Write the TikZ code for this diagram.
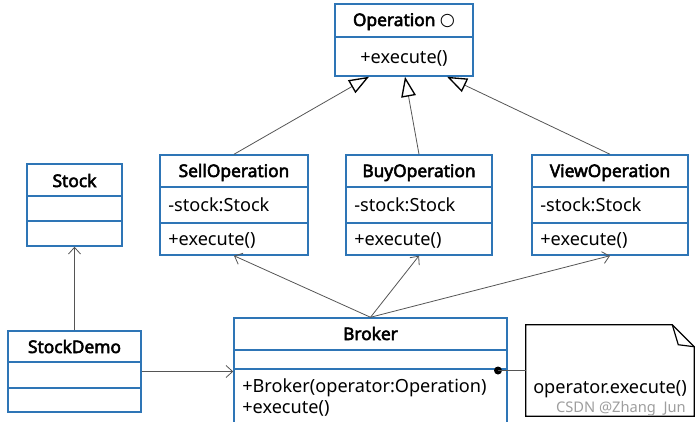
\documentclass[tikz,border=0pt]{standalone}
\usepackage{fontspec}
\setmainfont{Noto Sans}[BoldFont={Noto Sans},BoldFeatures={FakeBold=3}]
\newfontfamily\symfont{DejaVu Sans}
\usetikzlibrary{arrows.meta,fit,calc}
\definecolor{umlblue}{RGB}{46,117,182}
\definecolor{linkgray}{RGB}{85,85,85}

\begin{document}
\begin{tikzpicture}[x=0.75pt,y=-0.75pt,
    cls/.style={draw=umlblue,line width=1.1pt,inner sep=0pt},
    sep/.style={umlblue,line width=1.1pt},
    title/.style={font=\bfseries\fontsize{13}{15}\selectfont,inner sep=0pt,anchor=base},
    member/.style={font=\fontsize{13.6}{15}\selectfont,inner sep=0pt,anchor=base west},
    inherit/.style={draw=linkgray,line width=0.6pt,-{Triangle[open,length=15pt,width=11pt,line width=1pt,black]}},
    assoc/.style={draw=linkgray,line width=0.6pt,-{Straight Barb[length=5pt,width=9pt]}}]
  \useasboundingbox (0,0) rectangle (699,421);
  \clip (0,0) rectangle (699,421);

  % interface
  \node[cls,fit={(335,4) (473,76)}] (op) {};
  \draw[sep] (op.west |- 0,37) -- (op.east |- 0,37);
  \node[title] (opname) at (404,26) {Operation {\mdseries\symfont ○}};
  \node[member,anchor=base] (opexec) at (404,63) {+execute()};

  % concrete operations
  \node[cls,fit={(160,155) (308,255)}] (sell) {};
  \draw[sep] (sell.west |- 0,187) -- (sell.east |- 0,187);
  \draw[sep] (sell.west |- 0,223) -- (sell.east |- 0,223);
  \node[title] (sellname) at (sell.north |- 0,177) {SellOperation};
  \node[member] (sellattr) at (168,211) {-stock:Stock};
  \node[member] (sellexec) at (168,245) {+execute()};

  \node[cls,fit={(346,155) (492,255)}] (buy) {};
  \draw[sep] (buy.west |- 0,187) -- (buy.east |- 0,187);
  \draw[sep] (buy.west |- 0,223) -- (buy.east |- 0,223);
  \node[title] (buyname) at (buy.north |- 0,177) {BuyOperation};
  \node[member] (buyattr) at (354,211) {-stock:Stock};
  \node[member] (buyexec) at (354,245) {+execute()};

  \node[cls,fit={(532,155) (688,255)}] (view) {};
  \draw[sep] (view.west |- 0,187) -- (view.east |- 0,187);
  \draw[sep] (view.west |- 0,223) -- (view.east |- 0,223);
  \node[title] (viewname) at (view.north |- 0,177) {ViewOperation};
  \node[member] (viewattr) at (540,211) {-stock:Stock};
  \node[member] (viewexec) at (540,245) {+execute()};

  % stock and client
  \node[cls,fit={(27,164) (122,246)}] (stock) {};
  \draw[sep] (stock.west |- 0,196) -- (stock.east |- 0,196);
  \draw[sep] (stock.west |- 0,221) -- (stock.east |- 0,221);
  \node[title] (stockname) at (stock.north |- 0,187) {Stock};

  \node[cls,fit={(8,331) (141,412)}] (demo) {};
  \draw[sep] (demo.west |- 0,362) -- (demo.east |- 0,362);
  \draw[sep] (demo.west |- 0,388) -- (demo.east |- 0,388);
  \node[title] (demoname) at (demo.north |- 0,353) {StockDemo};

  % invoker
  \node[cls,fit={(234,318) (507,440)}] (broker) {};
  \draw[sep] (broker.west |- 0,350) -- (broker.east |- 0,350);
  \draw[sep] (broker.west |- 0,369) -- (broker.east |- 0,369);
  \node[title] (brokername) at (broker.north |- 0,340) {Broker};
  \node[member] (brokerinit) at (242,392) {+Broker(operator:Operation)};
  \node[member] (brokerexec) at (242,413) {+execute()};

  % note
  \node[inner sep=0pt,fit={(526,325) (694,416)}] (note) {};
  \draw[line width=0.9pt] (note.north west) -- ($(note.north east)+(-22,0)$)
    -- ($(note.north east)+(0,22)$) -- (note.south east) -- (note.south west) -- cycle;
  \draw[line width=0.9pt] ($(note.north east)+(-22,0)$) -- ($(note.north east)+(-16,20)$)
    -- ($(note.north east)+(0,22)$);
  \node[member,anchor=base] (notetext) at (610,393) {operator.execute()};
  \node[font=\fontsize{11}{13}\selectfont,text=black!38,inner sep=0pt,anchor=base east] (mark) at (686,412) {CSDN @Zhang\ \ Jun};

  % connectors
  \draw[inherit] (sell.north) -- ($(op.south)+(-35,0)$);
  \draw[inherit] (buy.north) -- ($(op.south)+(1,0)$);
  \draw[inherit] (view.north) -- ($(op.south)+(43,0)$);
  \draw[assoc] (broker.north) -- (sell.south);
  \draw[assoc] (broker.north) -- (buy.south);
  \draw[assoc] (broker.north) -- (view.south);
  \draw[assoc] (demo.north) -- (stock.south);
  \draw[assoc] (demo.east) -- (broker.west |- demo.east);
  \coordinate (link) at (498,370.5);
  \fill (link) circle (3pt);
  \draw[linkgray,line width=0.6pt] (link) -- (note.west);
\end{tikzpicture}
\end{document}
